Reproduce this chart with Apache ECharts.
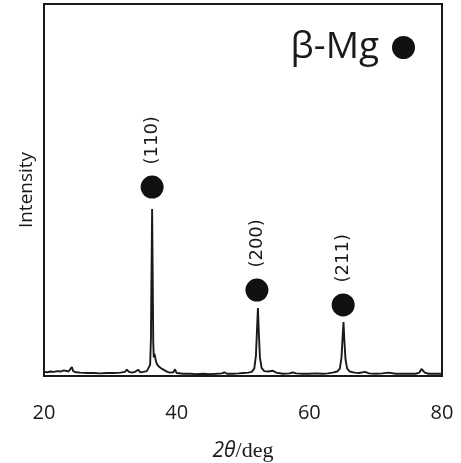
<!DOCTYPE html>
<html>
<head>
<meta charset="utf-8">
<script src="https://cdn.jsdelivr.net/npm/echarts@6/dist/echarts.min.js"></script>
<style>html,body{margin:0;padding:0;background:#fff}#c{width:461px;height:463px}</style>
</head>
<body>
<div id="c"></div>
<script>
// XRD trace (2theta in deg, intensity in arbitrary units)
var twoTheta = [20.0,20.5,21.0,21.5,22.0,22.5,23.0,23.3,23.7,24.0,24.2,24.4,24.8,25.5,26.5,27.5,28.5,29.5,30.5,31.5,32.2,32.5,32.8,33.3,33.8,34.2,34.5,35.0,35.5,35.8,36.0,36.12,36.22,36.3,36.38,36.47,36.55,36.65,36.75,36.9,37.1,37.4,37.8,38.2,38.6,39.0,39.5,39.75,40.0,41,42,43,44,45,46,46.8,47.2,47.6,48.5,49.3,50.0,50.8,51.3,51.7,51.95,52.1,52.25,52.4,52.55,52.8,53.2,53.8,54.5,55.0,56,57.0,57.5,58.0,59,60,61,62,62.8,63.5,64.2,64.6,64.85,65.0,65.15,65.3,65.45,65.7,66.1,66.8,67.5,68.4,69,70,71,72,73,74,75,76,76.6,76.9,77.1,77.4,78,79,80];
var intensity = [1.1,1.0,1.2,1.1,1.3,1.2,1.5,1.3,1.2,1.4,2.4,1.3,1.0,0.9,0.8,0.8,0.7,0.8,0.8,0.9,1.1,1.7,1.1,0.9,1.2,1.7,1.0,1.1,1.3,1.6,3.0,10,30,44.9,28,9,5.0,6.0,5.5,3.8,3.0,2.4,1.9,1.5,1.1,0.9,1.0,1.8,0.8,0.6,0.6,0.5,0.6,0.5,0.6,0.7,1.0,0.6,0.6,0.7,0.8,0.9,1.1,2.0,5.5,12,18.3,11,5,2.2,1.3,1.2,1.4,0.9,0.6,0.7,1.0,0.7,0.6,0.6,0.7,0.6,0.7,0.9,1.2,2.0,5,10,14.5,9,4.5,2.0,1.2,0.9,0.8,1.1,0.7,0.6,0.7,0.9,0.6,0.6,0.6,0.6,0.9,1.9,2.0,0.9,0.6,0.6,0.6];

// beta-Mg peak markers
var peakLabels = ['(110)','(200)','(211)'];
var peakX = [36.3, 52.1, 65.1];
var peakY = [50.8, 23.1, 19.1];

var xTicks = [20, 40, 60, 80];

var line = twoTheta.map(function(v,i){return [v, intensity[i]];});
var marks = peakX.map(function(v,i){return {value:[v, peakY[i]], name: peakLabels[i]};});

var chart = echarts.init(document.getElementById('c'), null, {renderer:'canvas'});
chart.setOption({
  animation: false,
  backgroundColor: '#fff',
  grid: {left: 44, right: 19, top: 4, bottom: 87, show: true, borderColor: '#1a1a1a', borderWidth: 2, backgroundColor: 'transparent', containLabel: false, outerBoundsMode: 'none'},
  legend: {
    data: [{name: 'β-Mg', icon: 'circle', itemStyle: {color: '#111', opacity: 1}}],
    right: 41, top: 24, align: 'right',
    itemWidth: 23, itemHeight: 23,
    textStyle: {fontFamily: 'Open Sans', fontSize: 37, color: '#1a1a1a', padding: [0, 8, 0, 0]},
    selectedMode: false
  },
  xAxis: {
    type: 'value', min: 20, max: 80, interval: 20,
    axisLine: {show: false}, axisTick: {show: false}, splitLine: {show: false},
    axisLabel: {fontFamily: 'Open Sans', fontSize: 20, color: '#1a1a1a', margin: 27,
      formatter: function(v){ return xTicks.indexOf(v) >= 0 ? String(v) : ''; }},
    name: '{i|2θ}{s|/deg}', nameLocation: 'middle', nameGap: 64,
    nameTextStyle: {rich: {
      i: {fontFamily: 'Open Sans', fontStyle: 'italic', fontSize: 21, color: '#1a1a1a'},
      s: {fontFamily: 'Liberation Serif', fontSize: 22, color: '#1a1a1a'}
    }}
  },
  yAxis: {
    type: 'value', min: 0, max: 100,
    axisLine: {show: false}, axisTick: {show: false}, splitLine: {show: false}, axisLabel: {show: false},
    name: 'Intensity', nameLocation: 'middle', nameGap: 8,
    nameTextStyle: {fontFamily: 'Open Sans', fontSize: 19, color: '#1a1a1a'}
  },
  series: [
    {type: 'line', data: line, showSymbol: false, symbol: 'none',
     lineStyle: {color: '#1a1a1a', width: 1.9}, z: 2},
    {type: 'scatter', name: 'β-Mg', data: marks, symbol: 'circle', symbolSize: 23,
     itemStyle: {color: '#111', opacity: 1}, z: 3,
     label: {show: true, position: 'top', distance: 11, rotate: 90, align: 'left', verticalAlign: 'middle',
       formatter: function(p){return p.name;},
       fontFamily: 'DejaVu Sans', fontSize: 18, color: '#1a1a1a'}}
  ]
});
</script>
</body>
</html>
